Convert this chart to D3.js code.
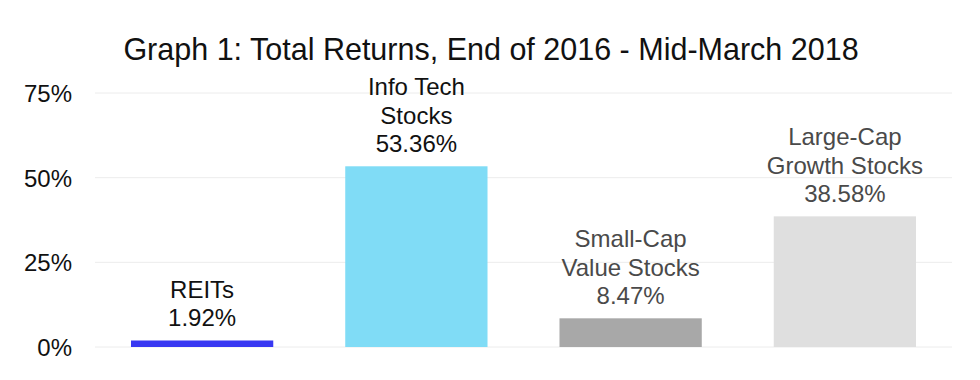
<!DOCTYPE html>
<html>
<head>
<meta charset="utf-8">
<script src="https://cdn.jsdelivr.net/npm/d3@7"></script>
<style>
  body { margin: 0; background: #fff; }
  text { font-family: "Liberation Sans", Arial, Helvetica, sans-serif; }
</style>
</head>
<body>
<script>
// chart size
const width = 980;
const height = 380;

// data
const categories = ["REITs", "Info Tech Stocks", "Small-Cap Value Stocks", "Large-Cap Growth Stocks"];
const labelLines = [["REITs"], ["Info Tech", "Stocks"], ["Small-Cap", "Value Stocks"], ["Large-Cap", "Growth Stocks"]];
const returns = [1.92, 53.36, 8.47, 38.58];
const barColors = ["#3838f2", "#80dcf6", "#a8a8a8", "#dfdfdf"];
const textColors = ["#111", "#111", "#4a4a4a", "#4a4a4a"];
const yTicks = [0, 25, 50, 75];

const margin = { top: 93, right: 28, bottom: 33, left: 95 };

const svg = d3.select("body")
  .append("svg")
  .attr("width", width)
  .attr("height", height);

const x = d3.scaleBand()
  .domain(categories)
  .range([margin.left, width - margin.right])
  .paddingInner(0.336)
  .paddingOuter(0.168);

const y = d3.scaleLinear()
  .domain([0, 75])
  .range([height - margin.bottom, margin.top]);

// title
svg.append("text")
  .attr("x", 491)
  .attr("y", 60)
  .attr("text-anchor", "middle")
  .style("font-size", "30.5px")
  .attr("fill", "#111")
  .text("Graph 1: Total Returns, End of 2016 - Mid-March 2018");

// gridlines
svg.append("g")
  .selectAll("line")
  .data(yTicks)
  .enter()
  .append("line")
  .attr("x1", margin.left)
  .attr("x2", width - margin.right)
  .attr("y1", (d) => y(d))
  .attr("y2", (d) => y(d))
  .attr("stroke", "#ececec")
  .attr("stroke-width", 1);

// y axis labels
const yAxis = d3.axisLeft(y)
  .tickValues(yTicks)
  .tickFormat((d) => d + "%")
  .tickSize(0)
  .tickPadding(0);

const yg = svg.append("g")
  .attr("transform", `translate(72,0)`)
  .call(yAxis);
yg.select(".domain").remove();
yg.selectAll("text")
  .style("font-size", "24px")
  .attr("fill", "#111")
  .attr("dy", "0.36em");

// bars
svg.append("g")
  .selectAll("rect")
  .data(returns)
  .enter()
  .append("rect")
  .attr("x", (d, i) => x(categories[i]))
  .attr("y", (d) => y(d))
  .attr("width", x.bandwidth())
  .attr("height", (d) => y(0) - y(d))
  .attr("fill", (d, i) => barColors[i]);

// labels above bars
returns.forEach((v, i) => {
  const lines = labelLines[i].concat([v.toFixed(2) + "%"]);
  const cx = x(categories[i]) + x.bandwidth() / 2;
  const baseY = y(v) - 14;
  lines.forEach((line, j) => {
    svg.append("text")
      .attr("x", cx)
      .attr("y", baseY - (lines.length - 1 - j) * 28.5)
      .attr("text-anchor", "middle")
      .style("font-size", "24px")
      .attr("fill", textColors[i])
      .text(line);
  });
});
</script>
</body>
</html>
